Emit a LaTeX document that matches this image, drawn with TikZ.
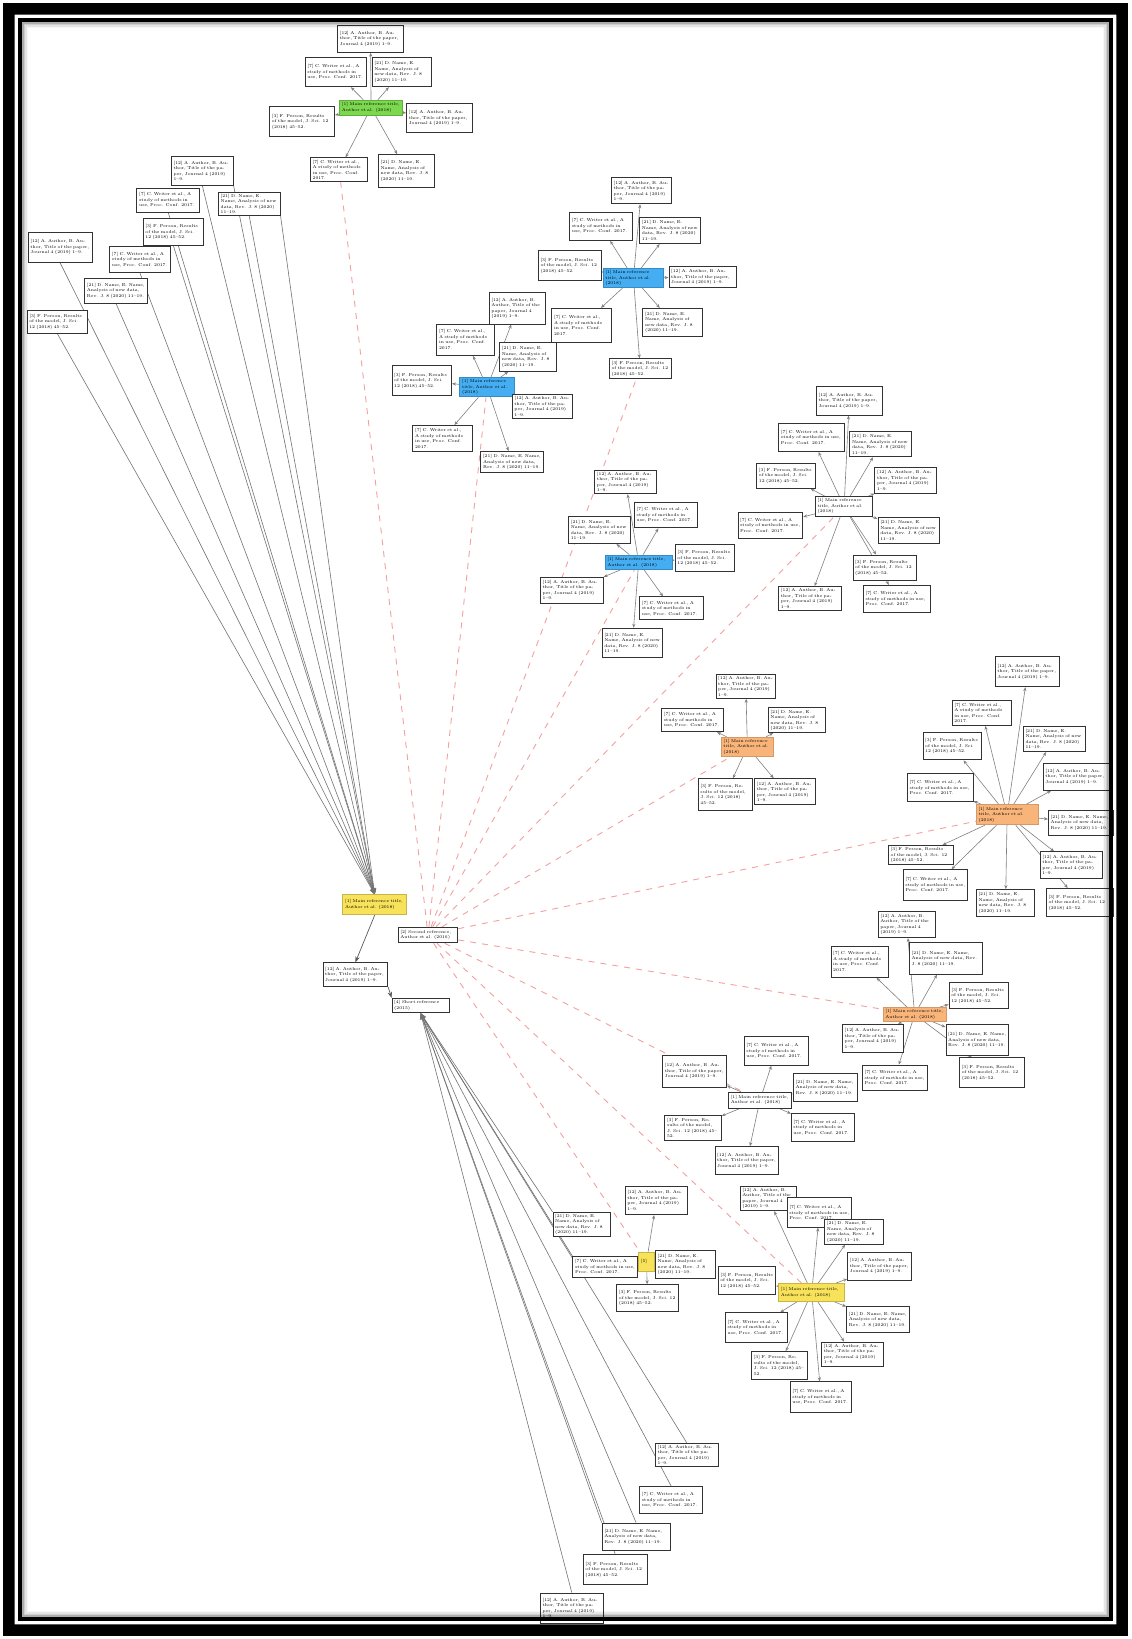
\documentclass[tikz,border=0pt]{standalone}
\usetikzlibrary{arrows.meta,backgrounds}
\newcommand\Unit{0.52265}
\definecolor{hubyellow}{HTML}{F8E25A}
\definecolor{hubgreen}{HTML}{7CD84E}
\definecolor{hubblue}{HTML}{45AEF2}
\definecolor{huborange}{HTML}{F9B47A}
\definecolor{linkred}{HTML}{F2A0A0}
\tikzset{
  bx/.style={draw=black!80, line width=0.45pt, fill=white, inner sep=1pt, align=left,
     font=\fontsize{2.1}{2.75}\selectfont, anchor=center},
  hubY/.style={bx, fill=hubyellow, draw=hubyellow!80!black},
  hubG/.style={bx, fill=hubgreen, draw=hubgreen!80!black},
  hubB/.style={bx, fill=hubblue, draw=hubblue!80!black},
  hubO/.style={bx, fill=huborange, draw=huborange!85!black},
  lk/.style={draw=black!50, line width=0.3pt, -{Stealth[length=2pt,width=1.6pt]}},
  rd/.style={draw=linkred, line width=0.45pt, dashed},
  fan/.style={draw=black!55, line width=0.3pt, -{Stealth[length=3pt,width=2.4pt]}},
}
\newcommand\bx[7][bx]{%
  \pgfmathsetmacro\bw{(#5-#3)*\Unit}%
  \pgfmathsetmacro\bh{(#6-#4)*\Unit}%
  \pgfmathsetmacro\tw{\bw-2.2}%
  \node[#1, minimum width=\bw pt, minimum height=\bh pt, text width=\tw pt] (#2) at ({(#3+#5)/2},{(#4+#6)/2}) {#7};}
\newcommand\ta{[12] A. Author, B. Author, Title of the paper, Journal 4 (2019) 1--9.}
\newcommand\tb{[7] C. Writer et al., A study of methods in use, Proc. Conf. 2017.}
\newcommand\tc{[21] D. Name, E. Name, Analysis of new data, Rev. J. 8 (2020) 11--19.}
\newcommand\td{[3] F. Person, Results of the model, J. Sci. 12 (2018) 45--52.}
\newcommand\hb{[1] Main reference title, Author et al. (2018)}
\begin{document}
\begin{tikzpicture}[x=0.52265pt, y=-0.52265pt]
\useasboundingbox (0,0) rectangle (1082,1568);

% ---------- hubs ----------
\bx[hubY]{h1}{328}{856}{389}{875}{\hb}
\bx{h2}{381}{887}{438}{902}{[2] Second reference, Author et al. (2016)}
\bx{h1b}{309}{921}{371}{944}{\ta}
\bx{h3}{375}{955}{430}{969}{[4] Short reference (2015)}

% ---------- left fan nodes ----------
\bx{l1}{164}{150}{223}{177}{\ta}
\bx{l2}{131}{180}{191}{203}{\tb}
\bx{l3}{209}{184}{268}{206}{\tc}
\bx{l4}{137}{209}{195}{235}{\td}
\bx{l5}{27}{222}{88}{251}{\ta}
\bx{l6}{105}{236}{163}{261}{\tb}
\bx{l7}{81}{266}{141}{290}{\tc}
\bx{l8}{26}{297}{84}{319}{\td}

% ---------- green cluster ----------
\bx[hubG]{g}{325}{96}{385}{110}{\hb}
\bx{g1}{323}{24}{386}{50}{\ta}
\bx{g2}{292}{55}{351}{83}{\tb}
\bx{g3}{356}{55}{413}{83}{\tc}
\bx{g4}{258}{102}{320}{131}{\td}
\bx{g5}{389}{99}{452}{127}{\ta}
\bx{g6}{297}{151}{352}{174}{\tb}
\bx{g7}{362}{148}{416}{179}{\tc}

% ---------- blue cluster 1 ----------
\bx[hubB]{b1}{577}{260}{635}{272}{\hb}
\bx{b1a}{585}{170}{642}{195}{\ta}
\bx{b1b}{545}{203}{605}{230}{\tb}
\bx{b1c}{612}{208}{670}{233}{\tc}
\bx{b1d}{515}{240}{575}{268}{\td}
\bx{b1e}{640}{255}{705}{275}{\ta}
\bx{b1f}{528}{295}{585}{328}{\tb}
\bx{b1g}{615}{295}{672}{322}{\tc}
\bx{b1h}{583}{345}{642}{360}{\td}

% ---------- blue cluster 2 ----------
\bx[hubB]{b2}{440}{365}{492}{376}{\hb}
\bx{b2a}{468}{280}{522}{310}{\ta}
\bx{b2b}{418}{310}{473}{340}{\tb}
\bx{b2c}{478}{328}{532}{355}{\tc}
\bx{b2d}{375}{350}{432}{378}{\td}
\bx{b2e}{490}{378}{548}{400}{\ta}
\bx{b2f}{395}{407}{452}{432}{\tb}
\bx{b2g}{460}{432}{520}{452}{\tc}

% ---------- blue cluster 3 ----------
\bx[hubB]{b3}{579}{531}{643}{545}{\hb}
\bx{b3a}{569}{450}{628}{472}{\ta}
\bx{b3b}{607}{481}{667}{505}{\tb}
\bx{b3c}{544}{494}{603}{520}{\tc}
\bx{b3d}{646}{521}{703}{547}{\td}
\bx{b3e}{517}{552}{577}{577}{\ta}
\bx{b3f}{612}{571}{673}{593}{\tb}
\bx{b3g}{576}{601}{634}{629}{\tc}

% ---------- white cluster 1 ----------
\bx{w1}{780}{476}{835}{493}{\hb}
\bx{w1a}{781}{370}{844}{397}{\ta}
\bx{w1b}{745}{405}{808}{432}{\tb}
\bx{w1c}{813}{413}{872}{437}{\tc}
\bx{w1d}{724}{443}{780}{467}{\td}
\bx{w1e}{837}{447}{896}{472}{\ta}
\bx{w1f}{706}{490}{768}{515}{\tb}
\bx{w1g}{840}{495}{899}{520}{\tc}
\bx{w1h}{816}{531}{877}{555}{\td}
\bx{w1i}{745}{563}{805}{582}{\ta}
\bx{w1j}{826}{560}{890}{586}{\tb}

% ---------- orange cluster 1 ----------
\bx[hubO]{o1}{690}{707}{740}{722}{\hb}
\bx{o1a}{685}{645}{742}{668}{\ta}
\bx{o1b}{633}{678}{692}{700}{\tb}
\bx{o1c}{735}{678}{790}{700}{\tc}
\bx{o1d}{668}{745}{720}{775}{\td}
\bx{o1e}{722}{745}{780}{770}{\ta}

% ---------- orange cluster 2 ----------
\bx[hubO]{o2}{934}{770}{993}{789}{\hb}
\bx{o2a}{952}{628}{1014}{657}{\ta}
\bx{o2b}{911}{670}{968}{694}{\tb}
\bx{o2c}{979}{695}{1038}{719}{\tc}
\bx{o2d}{883}{701}{939}{727}{\td}
\bx{o2e}{998}{730}{1062}{756}{\ta}
\bx{o2f}{868}{740}{931}{767}{\tb}
\bx{o2g}{1003}{775}{1065}{799}{\tc}
\bx{o2h}{850}{810}{912}{826}{\td}
\bx{o2i}{995}{815}{1055}{840}{\ta}
\bx{o2j}{864}{832}{926}{861}{\tb}
\bx{o2k}{934}{851}{990}{877}{\tc}
\bx{o2l}{1001}{850}{1065}{877}{\td}

% ---------- orange cluster 3 ----------
\bx[hubO]{o3}{845}{965}{905}{976}{\hb}
\bx{o3a}{840}{872}{895}{897}{\ta}
\bx{o3b}{795}{905}{850}{935}{\tb}
\bx{o3c}{870}{902}{940}{932}{\tc}
\bx{o3d}{908}{940}{965}{965}{\td}
\bx{o3e}{806}{980}{864}{1007}{\ta}
\bx{o3f}{825}{1019}{887}{1043}{\tb}
\bx{o3g}{905}{980}{965}{1010}{\tc}
\bx{o3h}{918}{1012}{980}{1040}{\td}

% ---------- white cluster 2 ----------
\bx{w2}{697}{1045}{757}{1060}{\hb}
\bx{w2a}{634}{1010}{695}{1040}{\ta}
\bx{w2b}{712}{992}{773}{1019}{\tb}
\bx{w2c}{759}{1027}{820}{1054}{\tc}
\bx{w2d}{636}{1067}{690}{1091}{\td}
\bx{w2e}{684}{1097}{745}{1124}{\ta}
\bx{w2f}{757}{1065}{817}{1092}{\tb}

% ---------- yellow cluster 1 ----------
\bx[hubY]{y1}{611}{1198}{626}{1216}{[5]}
\bx{y1a}{598}{1135}{658}{1162}{\ta}
\bx{y1b}{548}{1202}{610}{1222}{\tb}
\bx{y1c}{627}{1196}{684}{1223}{\tc}
\bx{y1d}{590}{1229}{649}{1255}{\td}

% ---------- yellow cluster 2 ----------
\bx[hubY]{y2}{745}{1228}{808}{1245}{\hb}
\bx{y2a}{708}{1135}{762}{1158}{\ta}
\bx{y2b}{753}{1146}{815}{1174}{\tb}
\bx{y2c}{789}{1167}{845}{1190}{\tc}
\bx{y2d}{687}{1212}{742}{1238}{\td}
\bx{y2e}{811}{1198}{872}{1225}{\ta}
\bx{y2f}{694}{1256}{753}{1284}{\tb}
\bx{y2g}{810}{1250}{870}{1275}{\tc}
\bx{y2h}{719}{1293}{772}{1320}{\td}
\bx{y2i}{786}{1284}{845}{1307}{\ta}
\bx{y2j}{756}{1322}{815}{1351}{\tb}

% ---------- bottom fan nodes ----------
\bx{f1}{529}{1162}{584}{1181}{\tc}
\bx{f2}{627}{1381}{687}{1403}{\ta}
\bx{f3}{612}{1422}{672}{1448}{\tb}
\bx{f4}{576}{1457}{641}{1483}{\tc}
\bx{f5}{558}{1487}{619}{1516}{\td}
\bx{f6}{517}{1524}{577}{1553}{\ta}

% ---------- connectors ----------
\begin{scope}[on background layer]
  \fill[white] (0,0) rectangle (1082,1568);
  % left fan into h1
  \foreach \n in {l1,l2,l3,l4,l5,l6,l7,l8}
    \draw[fan] (\n.south) -- (h1.north);
  \draw[fan] (l3.south east) -- (h1.north);
  \draw[fan] (l1.south east) -- (h1.north);
  \draw[draw=black!65, line width=0.35pt, -{Stealth[length=3pt]}] (h1.south) -- (h1b.north);
  \draw[draw=black!65, line width=0.35pt, -{Stealth[length=3pt]}] (h1b.south east) -- (h3.north west);
  % bottom fan into h3
  \draw[fan] (f1.north west) -- (h3.south);
  \foreach \n in {f2,f3,f5,f6}
    \draw[fan] (\n.north) -- (h3.south);
  \draw[fan] (f4.north) -- (h3.south);
  \draw[fan] (f4.north west) -- (h3.south);
  \draw[fan] (y1b.north west) -- (h3.south);
  % red dashed links from h2
  \foreach \n in {g6,b2,b1h,b3,w1,o1,o2,o3,w2,y1,y2}
    \draw[rd] (h2) -- (\n);
  % cluster links
  \foreach \s in {g1,g2,g3,g4,g5,g6,g7} \draw[lk] (g) -- (\s);
  \foreach \s in {b1a,b1b,b1c,b1d,b1e,b1f,b1g,b1h} \draw[lk] (b1) -- (\s);
  \foreach \s in {b2a,b2b,b2c,b2d,b2e,b2f,b2g} \draw[lk] (b2) -- (\s);
  \foreach \s in {b3a,b3b,b3c,b3d,b3e,b3f,b3g} \draw[lk] (b3) -- (\s);
  \foreach \s in {w1a,w1b,w1c,w1d,w1e,w1f,w1g,w1h,w1i,w1j} \draw[lk] (w1) -- (\s);
  \foreach \s in {o1a,o1b,o1c,o1d,o1e} \draw[lk] (o1) -- (\s);
  \foreach \s in {o2a,o2b,o2c,o2d,o2e,o2f,o2g,o2h,o2i,o2j,o2k,o2l} \draw[lk] (o2) -- (\s);
  \foreach \s in {o3a,o3b,o3c,o3d,o3e,o3f,o3g,o3h} \draw[lk] (o3) -- (\s);
  \foreach \s in {w2a,w2b,w2c,w2d,w2e,w2f} \draw[lk] (w2) -- (\s);
  \foreach \s in {y1a,y1b,y1c,y1d} \draw[lk] (y1) -- (\s);
  \foreach \s in {y2a,y2b,y2c,y2d,y2e,y2f,y2g,y2h,y2i,y2j} \draw[lk] (y2) -- (\s);
\end{scope}

% ---------- frame ----------
\fill[black, even odd rule] (3,3) rectangle (1079,1565) (14,14) rectangle (1068,1554);
\foreach \i/\o in {1/0.22,2/0.13,3/0.07,4/0.03}
  \draw[black, opacity=\o, line width=1.4pt] (20+\i*1.4,20+\i*1.4) rectangle (1062-\i*1.4,1548-\i*1.4);
\draw[black, line width=2.2pt] (19,19) rectangle (1063,1549);
\end{tikzpicture}
\end{document}
